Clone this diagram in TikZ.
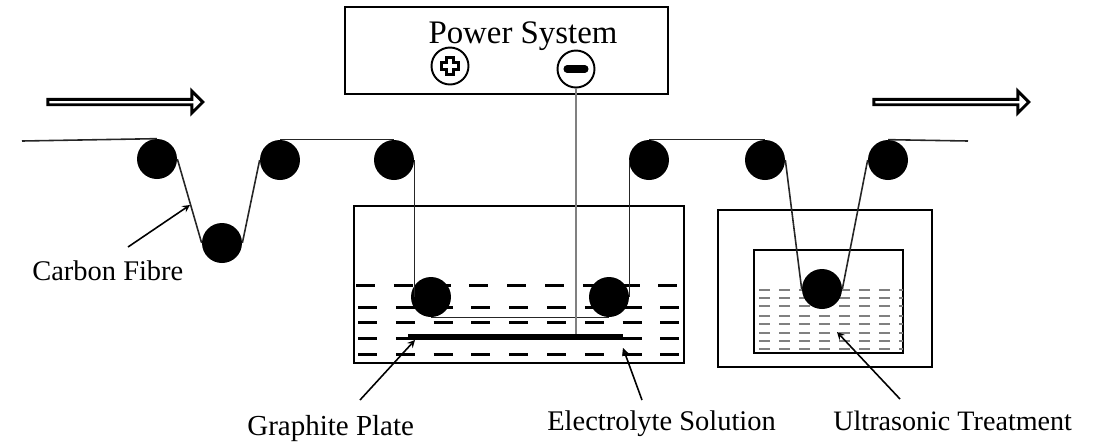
\documentclass[tikz,border=0pt]{standalone}
\usepackage{fontspec}
\setmainfont{Liberation Serif}
\usetikzlibrary{shapes.arrows}
\tikzset{
	roller/.style={circle,fill=black,inner sep=0pt,minimum size=0.8cm},
	fibre/.style={line width=0.9pt,black!85},
	tank/.style={line width=1.6pt},
	label/.style={inner sep=0pt,anchor=base west,font=\fontsize{16.2}{18}\selectfont},
	pointer/.style={->,>=stealth,line width=0.9pt},
	flow/.style={single arrow,draw,line width=1.7pt,fill=white,inner sep=0pt,minimum height=3.1cm,minimum width=0.44cm,single arrow head extend=0.09cm,single arrow head indent=0pt},
	pole/.style={circle,draw,line width=1.1pt,inner sep=0pt,minimum size=0.74cm}
}
\begin{document}
\begin{tikzpicture}[x=0.02cm,y=-0.02cm]
	\useasboundingbox (0,0) rectangle (1093,441);

	\node [draw,line width=1.6pt,inner sep=0pt,minimum width=6.46cm,minimum height=1.74cm] (power) at (506.5,50.5) {};
	\node [inner sep=0pt,anchor=base,font=\fontsize{18.7}{20}\selectfont] (powerlabel) at (523,43) {Power System};
	\node [pole] (plus) at (450,66) {};
	\node [pole] (minus) at (576,69) {};
	\draw [line width=5.6pt] (440,66) -- (460,66) (450,56) -- (450,76);
	\draw [line width=1.8pt,white] (443,66) -- (457,66) (450,59) -- (450,73);
	\draw [line width=4pt,line cap=round] (567,69) -- (585,69);

	\node [flow] (flowleft) at (124,102) {};
	\node [flow] (flowright) at (950,102) {};

	% electrolysis bath
	\node [draw,tank,inner sep=0pt,minimum width=6.6cm,minimum height=3.14cm] (bath) at (519,284.5) {};
	\foreach \y/\x in {285/356,307/358,322/358,338/358,354/358}
		\draw [line width=1.7pt,dash pattern=on 19*0.02cm off 18.8*0.02cm] (\x,\y) -- (680,\y);
	\node [fill=black,inner sep=0pt,minimum width=4.3cm,minimum height=0.12cm] (plate) at (515.5,337) {};

	% ultrasonic bath
	\node [draw,tank,inner sep=0pt,minimum width=4.28cm,minimum height=3.14cm] (outerbath) at (825,288.5) {};
	\node [draw,tank,inner sep=0pt,minimum width=2.98cm,minimum height=2.06cm] (innerbath) at (828.5,301.5) {};
	\foreach \y in {290,298,306,316,324,333,341,349}
		\draw [gray,line width=0.6pt,dash pattern=on 11*0.02cm off 9*0.02cm] (759,\y) -- (903,\y);

	\node [roller] (r1) at (157,159) {};
	\node [roller] (r2) at (222,243) {};
	\node [roller] (r3) at (280,160) {};
	\node [roller] (r4) at (394,160) {};
	\node [roller] (r5) at (431,297) {};
	\node [roller] (r6) at (609,297) {};
	\node [roller] (r7) at (649,160) {};
	\node [roller] (r8) at (765,160) {};
	\node [roller] (r9) at (822,289) {};
	\node [roller] (r10) at (888,160) {};

	\coordinate (fibrein) at (22,141);
	\coordinate (fibreout) at (968,141);
	\draw [fibre] (fibrein) -- (r1.north);
	\draw [fibre] (r1.east) -- (r2.west);
	\draw [fibre] (r2.east) -- (r3.west);
	\draw [fibre] (r3.north) -- (r4.north);
	\draw [fibre] (r4.east) -- (r4.east |- r5.center);
	\draw [fibre] (r5.south) -- (r6.south);
	\draw [fibre] (r6.east |- r7.center) -- (r6.east);
	\draw [fibre] (r7.north) -- (r8.north);
	\draw [fibre] (r8.east) -- (r9.west);
	\draw [fibre] (r9.east) -- (r10.west);
	\draw [fibre] (r10.north) -- (fibreout);

	\draw [gray,line width=0.7pt] (minus.south) -- (plate.north -| minus.south);

	\node [label] (carbon) at (32,280) {Carbon Fibre};
	\node [label,font=\fontsize{16.5}{18}\selectfont] (graphite) at (247,435) {Graphite Plate};
	\node [label] (electrolyte) at (547,430) {Electrolyte Solution};
	\node [label,font=\fontsize{16}{18}\selectfont] (ultrasonic) at (833,430) {Ultrasonic Treatment};

	\coordinate (carbonstart) at (128,247);
	\coordinate (carbonend) at (190,205);
	\coordinate (graphitestart) at (360,400);
	\coordinate (graphiteend) at (415,340);
	\coordinate (electrolytestart) at (642,400);
	\coordinate (electrolyteend) at (623,348);
	\coordinate (ultrasonicstart) at (900,399);
	\coordinate (ultrasonicend) at (837,332);
	\draw [pointer] (carbonstart) -- (carbonend);
	\draw [pointer] (graphitestart) -- (graphiteend);
	\draw [pointer] (electrolytestart) -- (electrolyteend);
	\draw [pointer] (ultrasonicstart) -- (ultrasonicend);
\end{tikzpicture}
\end{document}
